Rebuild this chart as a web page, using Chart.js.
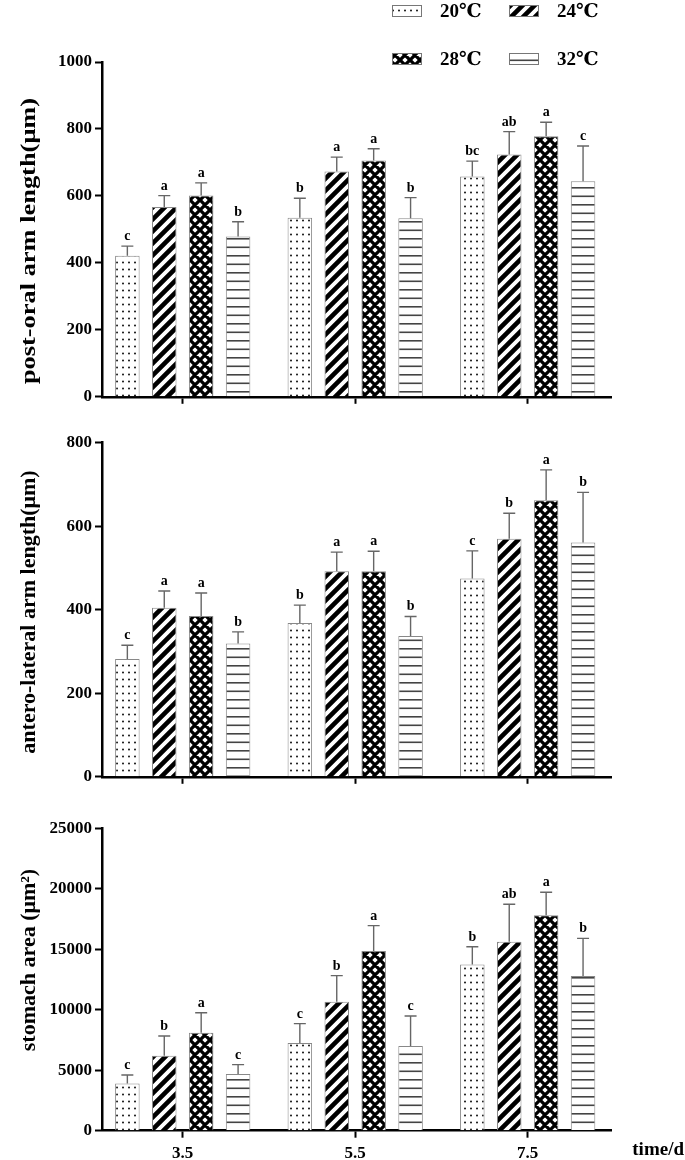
<!DOCTYPE html>
<html>
<head>
<meta charset="utf-8">
<script src="https://cdn.jsdelivr.net/npm/chart.js@4.4.1/dist/chart.umd.min.js"></script>
<style>
  body { margin: 0; background: #fff; width: 685px; height: 1160px; position: relative; overflow: hidden; }
  .panel { position: absolute; left: 0; width: 685px; }
</style>
</head>
<body>
<div class="panel" style="top:0;height:410px"><canvas id="c1"></canvas></div>
<div class="panel" style="top:410px;height:380px"><canvas id="c2"></canvas></div>
<div class="panel" style="top:790px;height:370px"><canvas id="c3"></canvas></div>
<script>
const days = [3.5, 5.5, 7.5];
const temps = ["20℃", "24℃", "28℃", "32℃"];

// une ligne par température (20, 24, 28, 32), une colonne par jour
const postOralMean = [[421, 535, 658], [567, 673, 724], [601, 706, 778], [479, 533, 644]];
const postOralErr = [[29, 58, 46], [34, 43, 68], [38, 35, 42], [44, 62, 105]];
const postOralLetters = [["c", "b", "bc"], ["a", "a", "ab"], ["a", "a", "a"], ["b", "b", "c"]];

const anteroMean = [[282, 368, 475], [405, 492, 570], [385, 492, 662], [319, 337, 561]];
const anteroErr = [[33, 43, 66], [40, 46, 61], [55, 48, 73], [28, 47, 120]];
const anteroLetters = [["c", "b", "c"], ["a", "a", "b"], ["a", "a", "a"], ["b", "b", "b"]];

const stomachMean = [[3910, 7250, 13750], [6200, 10670, 15630], [8100, 14860, 17810], [4690, 7000, 12790]];
const stomachErr = [[690, 1600, 1460], [1630, 2150, 3090], [1650, 2090, 1900], [770, 2480, 3110]];
const stomachLetters = [["c", "c", "b"], ["b", "b", "ab"], ["a", "a", "a"], ["c", "c", "b"]];

const SERIF = '"Liberation Serif", "Times New Roman", "DejaVu Serif", serif';
Chart.defaults.font.family = SERIF;
Chart.defaults.color = "#000";

// motifs de remplissage
function tile(w, h, draw) {
  const c = document.createElement("canvas");
  c.width = w; c.height = h;
  const g = c.getContext("2d");
  g.fillStyle = "#fff";
  g.fillRect(0, 0, w, h);
  draw(g);
  return g.createPattern(c, "repeat");
}

const dots = tile(6, 7, g => {
  g.fillStyle = "#111";
  g.beginPath(); g.arc(3, 3.5, 1, 0, Math.PI * 2); g.fill();
});
const stripes = tile(12, 12, g => {
  g.strokeStyle = "#000"; g.lineWidth = 4.6;
  g.beginPath();
  g.moveTo(-3, 3); g.lineTo(3, -3);
  g.moveTo(0, 12); g.lineTo(12, 0);
  g.moveTo(9, 15); g.lineTo(15, 9);
  g.stroke();
});
const cross = tile(10, 10, g => {
  g.strokeStyle = "#000"; g.lineWidth = 3.3;
  g.beginPath();
  g.moveTo(-5, 5); g.lineTo(5, -5);
  g.moveTo(0, 10); g.lineTo(10, 0);
  g.moveTo(5, 15); g.lineTo(15, 5);
  g.moveTo(-5, 5); g.lineTo(5, 15);
  g.moveTo(0, 0); g.lineTo(10, 10);
  g.moveTo(5, -5); g.lineTo(15, 5);
  g.stroke();
});
const hlines = tile(4, 17, g => {
  g.fillStyle = "#444";
  g.fillRect(0, 0, 4, 1.6);
  g.fillRect(0, 8.5, 4, 1.6);
});
const patterns = [dots, stripes, cross, hlines];

const errorBars = {
  id: "errorBars",
  afterDatasetsDraw(chart) {
    const ctx = chart.ctx, y = chart.scales.y;
    chart.data.datasets.forEach((ds, i) => {
      chart.getDatasetMeta(i).data.forEach((bar, j) => {
        const top = y.getPixelForValue(ds.data[j].y + ds.errs[j]);
        ctx.save();
        ctx.strokeStyle = "#666";
        ctx.lineWidth = 1.4;
        ctx.beginPath();
        ctx.moveTo(bar.x, bar.y); ctx.lineTo(bar.x, top);
        ctx.moveTo(bar.x - 6, top); ctx.lineTo(bar.x + 6, top);
        ctx.stroke();
        ctx.fillStyle = "#000";
        ctx.font = "bold 14px " + SERIF;
        ctx.textAlign = "center";
        ctx.textBaseline = "alphabetic";
        ctx.fillText(ds.letters[j], bar.x, top - 6);
        ctx.restore();
      });
    });
  }
};

function yTitlePlugin(text, cy, stretch) {
  return {
    id: "yTitle",
    afterDraw(chart) {
      const ctx = chart.ctx;
      ctx.save();
      ctx.translate(29, cy);
      ctx.rotate(-Math.PI / 2);
      ctx.scale(stretch, 1);
      ctx.font = "bold 22px " + SERIF;
      ctx.fillStyle = "#000";
      ctx.textAlign = "center";
      ctx.textBaseline = "middle";
      ctx.fillText(text, 0, 0);
      ctx.restore();
    }
  };
}

const legendPlugin = {
  id: "legende",
  afterDraw(chart) {
    const ctx = chart.ctx;
    const cols = [392, 509], rows = [5, 53];
    temps.forEach((t, i) => {
      const x = cols[i % 2], y = rows[Math.floor(i / 2)];
      ctx.save();
      ctx.fillStyle = patterns[i];
      ctx.fillRect(x, y, 30, 12);
      ctx.strokeStyle = "#777";
      ctx.lineWidth = 1;
      ctx.strokeRect(x + 0.5, y + 0.5, 29, 11);
      ctx.fillStyle = "#000";
      ctx.font = "bold 19px " + SERIF;
      ctx.textBaseline = "middle";
      ctx.fillText(t, x + 48, y + 7);
      ctx.restore();
    });
  }
};

const timeLabel = {
  id: "timeLabel",
  afterDraw(chart) {
    const ctx = chart.ctx;
    ctx.save();
    ctx.font = "bold 19px " + SERIF;
    ctx.fillStyle = "#000";
    ctx.textAlign = "right";
    ctx.textBaseline = "middle";
    ctx.fillText("time/d", 684, chart.height - 10);
    ctx.restore();
  }
};

function panel(id, means, errs, letters, yMax, yStep, padTop, xHeight, showX, extra) {
  const axisLine = { display: true, color: "#000", width: 2.5 };
  const grid = { drawOnChartArea: false, drawTicks: true, tickLength: 7, tickColor: "#000", tickWidth: 2, offset: false };
  return new Chart(document.getElementById(id).getContext("2d"), {
    type: "bar",
    data: {
      datasets: temps.map((t, i) => ({
        label: t,
        data: days.map((d, j) => ({ x: d, y: means[i][j] })),
        errs: errs[i],
        letters: letters[i],
        backgroundColor: patterns[i],
        borderColor: "#888",
        borderWidth: 1,
        categoryPercentage: 0.856,
        barPercentage: 0.664,
      })),
    },
    options: {
      responsive: true,
      maintainAspectRatio: false,
      animation: false,
      layout: { padding: { top: padTop, right: 74, left: 0, bottom: 0 } },
      plugins: { legend: { display: false }, tooltip: { enabled: false } },
      scales: {
        x: {
          type: "linear",
          offset: false,
          min: 2.564,
          max: 8.466,
          afterBuildTicks: s => { s.ticks = days.map(v => ({ value: v })); },
          afterFit: s => { s.height = xHeight; },
          grid: grid,
          border: axisLine,
          ticks: {
            autoSkip: false,
            maxRotation: 0,
            padding: 6,
            color: "#000",
            font: { size: 17, weight: "bold" },
            callback: v => (showX ? String(v) : ""),
          },
        },
        y: {
          min: 0,
          max: yMax,
          afterFit: s => { s.width = 102; },
          grid: grid,
          border: axisLine,
          ticks: {
            stepSize: yStep,
            padding: 3,
            color: "#000",
            font: { size: 17, weight: "bold" },
            callback: v => String(v),
          },
        },
      },
    },
    plugins: [errorBars].concat(extra),
  });
}

panel("c1", postOralMean, postOralErr, postOralLetters, 1000, 200, 62, 12, false,
  [yTitlePlugin("post-oral arm length(μm)", 241, 1.2), legendPlugin]);
panel("c2", anteroMean, anteroErr, anteroLetters, 800, 200, 32.7, 10, false,
  [yTitlePlugin("antero-lateral arm length(μm)", 202, 1)]);
panel("c3", stomachMean, stomachErr, stomachLetters, 25000, 5000, 38.3, 29.3, true,
  [yTitlePlugin("stomach area (μm²)", 170, 1), timeLabel]);
</script>
</body>
</html>
